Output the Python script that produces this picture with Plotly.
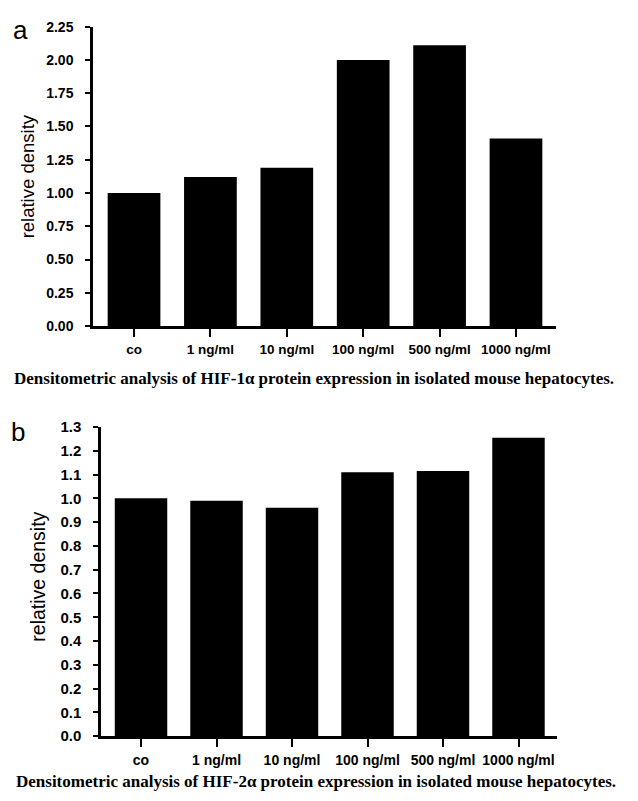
import plotly.graph_objects as go

# Treatment groups (shared by both panels)
categories = ["co", "1 ng/ml", "10 ng/ml", "100 ng/ml", "500 ng/ml", "1000 ng/ml"]

# Relative band density, HIF-1α (panel a)
hif1_density = [1.00, 1.12, 1.19, 2.00, 2.11, 1.41]
hif1_ticks = [0.00, 0.25, 0.50, 0.75, 1.00, 1.25, 1.50, 1.75, 2.00, 2.25]

# Relative band density, HIF-2α (panel b)
hif2_density = [1.00, 0.99, 0.96, 1.11, 1.115, 1.255]
hif2_ticks = [0.0, 0.1, 0.2, 0.3, 0.4, 0.5, 0.6, 0.7, 0.8, 0.9, 1.0, 1.1, 1.2, 1.3]

W, H = 638, 801
SANS = "Liberation Sans, Arial, sans-serif"
SERIF = "Liberation Serif, Times New Roman, serif"


def px_x(p):
    return p / W


def px_y(p):
    return 1 - p / H


idx = list(range(len(categories)))

fig = go.Figure()
fig.add_trace(go.Bar(x=idx, y=hif1_density, width=0.69, marker=dict(color="black", line=dict(width=0)),
                     xaxis="x", yaxis="y", showlegend=False))
fig.add_trace(go.Bar(x=idx, y=hif2_density, width=0.695, marker=dict(color="black", line=dict(width=0)),
                     xaxis="x2", yaxis="y2", showlegend=False))

axis_common = dict(showline=True, linecolor="black", linewidth=2.5, ticks="outside",
                   tickcolor="black", tickwidth=2, showgrid=False, zeroline=False)

fig.update_layout(
    width=W, height=H,
    margin=dict(l=0, r=0, t=0, b=0),
    paper_bgcolor="white", plot_bgcolor="white",
    xaxis=dict(**axis_common, domain=[px_x(93), px_x(556)], range=[-0.537, 5.524],
               tickvals=idx, ticktext=categories, ticklen=8, ticklabelstandoff=1,
               tickfont=dict(family=SANS, size=13.5, color="black", weight="bold"),
               anchor="y"),
    yaxis=dict(**axis_common, domain=[px_y(324), px_y(18)], range=[0, 2.25],
               tickvals=hif1_ticks, ticktext=[f"{v:.2f}" for v in hif1_ticks], ticklen=5,
               ticklabelstandoff=9,
               tickfont=dict(family=SANS, size=14, color="black", weight="bold"),
               anchor="x"),
    xaxis2=dict(**axis_common, domain=[px_x(101), px_x(557)], range=[-0.53, 5.51],
                tickvals=idx, ticktext=categories, ticklen=8, ticklabelstandoff=1,
                tickfont=dict(family=SANS, size=14, color="black", weight="bold"),
                anchor="y2"),
    yaxis2=dict(**axis_common, domain=[px_y(743), px_y(427)], range=[0, 1.3],
                tickvals=hif2_ticks, ticktext=[f"{v:.1f}" for v in hif2_ticks], ticklen=5,
                ticklabelstandoff=9,
                tickfont=dict(family=SANS, size=15, color="black", weight="bold"),
                anchor="x2"),
)

annotations = [
    # panel letters
    dict(text="a", x=px_x(11), y=px_y(21), xanchor="left", yanchor="middle",
         font=dict(family=SANS, size=26, color="black")),
    dict(text="b", x=px_x(9), y=px_y(432), xanchor="left", yanchor="middle",
         font=dict(family=SANS, size=26, color="black")),
    # y-axis titles
    dict(text="relative density", x=px_x(27), y=px_y(171), textangle=-90,
         xanchor="center", yanchor="middle", font=dict(family=SANS, size=18.5, color="black")),
    dict(text="relative density", x=px_x(38), y=px_y(580), textangle=-90,
         xanchor="center", yanchor="middle", font=dict(family=SANS, size=19.5, color="black")),
    # captions
    dict(text="<b>Densitometric analysis of HIF-1α protein expression in isolated mouse hepatocytes.</b>",
         x=px_x(314), y=px_y(378), xanchor="center", yanchor="middle",
         font=dict(family=SERIF, size=17, color="black")),
    dict(text="<b>Densitometric analysis of HIF-2α protein expression in isolated mouse hepatocytes.</b>",
         x=px_x(316), y=px_y(789), xanchor="center", yanchor="middle",
         font=dict(family=SERIF, size=17, color="black")),
]
for a in annotations:
    a.update(xref="paper", yref="paper", showarrow=False)
fig.update_layout(annotations=annotations)

fig.write_html("out.html")
